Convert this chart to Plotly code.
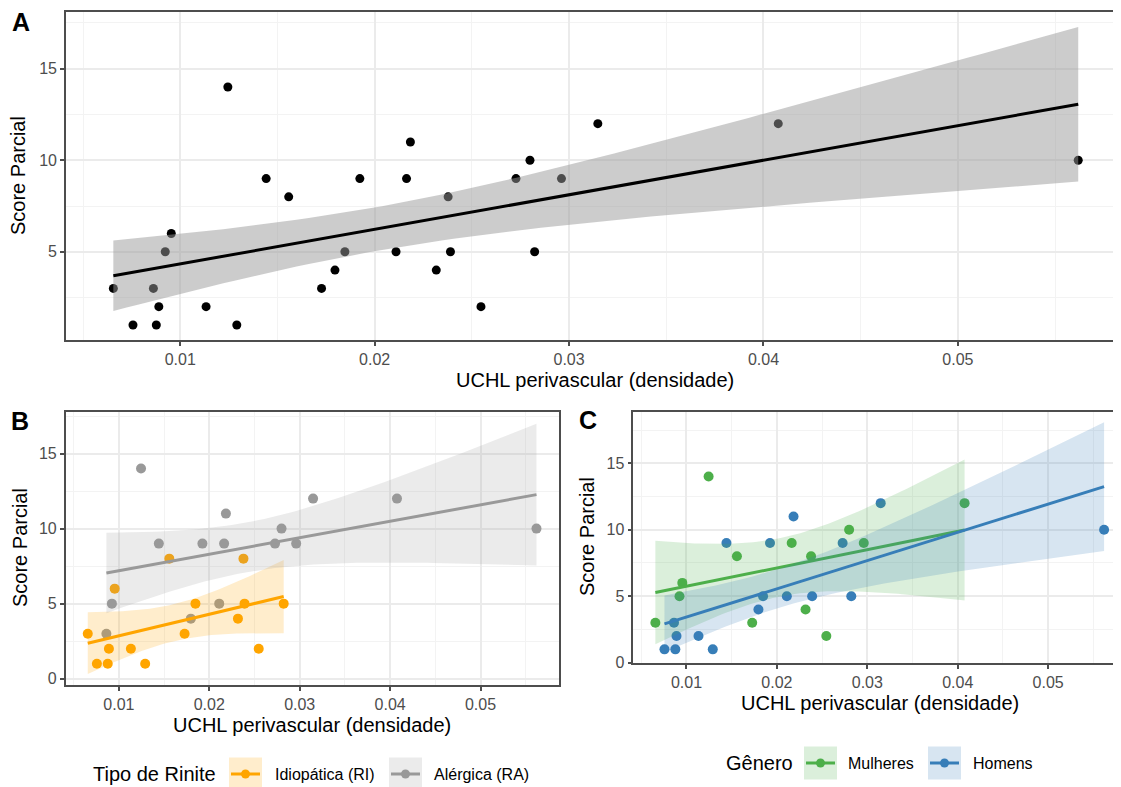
import numpy as np
import plotly.graph_objects as go

# ---------------- data ----------------
uchl = [0.00656, 0.00757, 0.00862, 0.00890, 0.00877, 0.00923, 0.00954, 0.01133, 0.01245, 0.01291,
        0.01442, 0.01558, 0.01727, 0.01796, 0.01847, 0.01924, 0.02110, 0.02164, 0.02184, 0.02317,
        0.02378, 0.02390, 0.02547, 0.02727, 0.02799, 0.02823, 0.02961, 0.03148, 0.04076, 0.05619]
score = [3, 1, 3, 2, 1, 5, 6, 2, 14, 1,
         9, 8, 3, 4, 5, 9, 5, 9, 11, 4,
         8, 5, 2, 9, 10, 5, 9, 12, 12, 10]
rinite = ["RI", "RI", "RA", "RI", "RI", "RA", "RI", "RI", "RA", "RI",
          "RA", "RI", "RI", "RA", "RI", "RA", "RA", "RA", "RA", "RI",
          "RI", "RI", "RI", "RA", "RA", "RI", "RA", "RA", "RA", "RA"]
genero = ["M", "H", "H", "H", "H", "M", "M", "H", "M", "H",
          "H", "M", "M", "H", "H", "H", "H", "M", "H", "M",
          "M", "H", "M", "H", "M", "H", "M", "H", "M", "H"]

rinite_levels = ["RI", "RA"]
rinite_labels = ["Idiopática (RI)", "Alérgica (RA)"]
rinite_colors = ["#FFA500", "#999999"]
genero_levels = ["M", "H"]
genero_labels = ["Mulheres", "Homens"]
genero_colors = ["#4DAF4A", "#377EB8"]

x_title = "UCHL perivascular (densidade)"
y_title = "Score Parcial"

# t quantiles (0.975) for the lm confidence band by residual df
T975 = {11: 2.2010, 13: 2.1604, 15: 2.1314, 28: 2.0484}

# page is 1121x787; the html body has an 8px margin, so the figure is 8px smaller
OFF = 8
W, H = 1121 - OFF, 787 - OFF
FONT = "Liberation Sans"


def px(xp):
    return (xp - OFF) / W


def py(yp):
    return 1 - (yp - OFF) / H


def lm_band(x, y, npts=80):
    x = np.asarray(x, float)
    y = np.asarray(y, float)
    n = len(x)
    xm = x.mean()
    sxx = ((x - xm) ** 2).sum()
    b = ((x - xm) * (y - y.mean())).sum() / sxx
    a = y.mean() - b * xm
    s = np.sqrt(((y - (a + b * x)) ** 2).sum() / (n - 2))
    xs = np.linspace(x.min(), x.max(), npts)
    yh = a + b * xs
    se = s * np.sqrt(1 / n + (xs - xm) ** 2 / sxx)
    t = T975[n - 2]
    return xs, yh, yh - t * se, yh + t * se


def rgba(hexc, a):
    h = hexc.lstrip("#")
    r, g, b = int(h[0:2], 16), int(h[2:4], 16), int(h[4:6], 16)
    return f"rgba({r},{g},{b},{a})"


fig = go.Figure()


def add_points(xv, yv, color, axis, msize):
    xa, ya = axis
    fig.add_trace(go.Scatter(x=xv, y=yv, mode="markers", xaxis=xa, yaxis=ya,
                             marker=dict(color=color, size=msize, line=dict(width=0)),
                             showlegend=False, hoverinfo="skip"))


def add_smooth(xv, yv, color, band_fill, axis):
    xa, ya = axis
    xs, yh, lo, hi = lm_band(xv, yv)
    fig.add_trace(go.Scatter(x=np.concatenate([xs, xs[::-1]]), y=np.concatenate([hi, lo[::-1]]),
                             fill="toself", fillcolor=band_fill, line=dict(width=0),
                             mode="lines", xaxis=xa, yaxis=ya, showlegend=False, hoverinfo="skip"))
    fig.add_trace(go.Scatter(x=xs, y=yh, mode="lines", line=dict(color=color, width=3),
                             xaxis=xa, yaxis=ya, showlegend=False, hoverinfo="skip"))


# Panel A
add_points(uchl, score, "black", ("x", "y"), 9)
add_smooth(uchl, score, "black", "rgba(153,153,153,0.5)", ("x", "y"))

# Panel B
for lev, col in zip(rinite_levels, rinite_colors):
    xv = [u for u, r in zip(uchl, rinite) if r == lev]
    yv = [s for s, r in zip(score, rinite) if r == lev]
    add_points(xv, yv, col, ("x2", "y2"), 10)
for lev, col in zip(rinite_levels, rinite_colors):
    xv = [u for u, r in zip(uchl, rinite) if r == lev]
    yv = [s for s, r in zip(score, rinite) if r == lev]
    add_smooth(xv, yv, col, rgba(col, 0.2), ("x2", "y2"))

# Panel C
for lev, col in zip(genero_levels, genero_colors):
    xv = [u for u, g in zip(uchl, genero) if g == lev]
    yv = [s for s, g in zip(score, genero) if g == lev]
    add_points(xv, yv, col, ("x3", "y3"), 10)
for lev, col in zip(genero_levels, genero_colors):
    xv = [u for u, g in zip(uchl, genero) if g == lev]
    yv = [s for s, g in zip(score, genero) if g == lev]
    add_smooth(xv, yv, col, rgba(col, 0.2), ("x3", "y3"))

GRID = "#EBEBEB"
MINOR = "#F3F3F3"
BORDER = "#4d4d4d"
TICKF = dict(family=FONT, size=16, color="#4d4d4d")


def xax(domain, rng, mirror, anchor):
    return dict(domain=domain, range=rng, dtick=0.01, tick0=0, showgrid=True, gridcolor=GRID, gridwidth=1.5,
                minor=dict(dtick=0.005, tick0=0, showgrid=True, gridcolor=MINOR, gridwidth=1),
                zeroline=False, showline=True, linecolor=BORDER, linewidth=1.6, mirror=mirror,
                ticks="outside", ticklen=4, tickwidth=1.5, tickcolor=BORDER, tickfont=TICKF,
                anchor=anchor, automargin=False, fixedrange=True)


def yax(domain, rng, mirror, anchor):
    return dict(domain=domain, range=rng, dtick=5, tick0=0, showgrid=True, gridcolor=GRID, gridwidth=1.5,
                minor=dict(dtick=2.5, tick0=0, showgrid=True, gridcolor=MINOR, gridwidth=1),
                zeroline=False, showline=True, linecolor=BORDER, linewidth=1.6, mirror=mirror,
                ticks="outside", ticklen=4, tickwidth=1.5, tickcolor=BORDER, tickfont=TICKF,
                anchor=anchor, automargin=False, fixedrange=True)


fig.update_layout(
    template="none",
    width=W, height=H, margin=dict(l=0, r=0, t=0, b=0, pad=0),
    paper_bgcolor="white", plot_bgcolor="white",
    font=dict(family=FONT),
    xaxis=xax([px(66), 1.0], [0.004125, 0.05839], True, "y"),
    yaxis=yax([py(340), py(12)], [0.18, 18.1], False, "x"),
    xaxis2=xax([px(65.7), px(559)], [0.00412, 0.05868], True, "y2"),
    yaxis2=yax([py(685), py(411.7)], [-0.42, 17.79], True, "x2"),
    xaxis3=xax([px(633.3), 1.0], [0.00412, 0.05806], True, "y3"),
    yaxis3=yax([py(663.3), py(411.7)], [-0.05, 18.88], False, "x3"),
)

ann = []


def text(x, y, t, size=20, bold=False, angle=0, xanchor="center", color="black"):
    ann.append(dict(x=px(x), y=py(y), xref="paper", yref="paper", text=(f"<b>{t}</b>" if bold else t),
                    showarrow=False, xanchor=xanchor, yanchor="middle", textangle=angle,
                    font=dict(family=FONT, size=size, color=color)))


# tags
text(21, 22, "A", size=25, bold=True)
text(20, 421, "B", size=25, bold=True)
text(588, 420, "C", size=25, bold=True)
# axis titles
text(18, 176, y_title, angle=-90)
text(595, 380, x_title)
text(20, 548, y_title, angle=-90)
text(312, 725, x_title)
text(587, 537, y_title, angle=-90)
text(880, 703, x_title)

shapes = []


def legend_key(x0, yc, color):
    s = 33
    shapes.append(dict(type="rect", xref="paper", yref="paper", x0=px(x0), x1=px(x0 + s),
                       y0=py(yc + s / 2), y1=py(yc - s / 2), fillcolor=rgba(color, 0.2), line=dict(width=0),
                       layer="above"))
    shapes.append(dict(type="line", xref="paper", yref="paper", x0=px(x0 + 2), x1=px(x0 + s - 2),
                       y0=py(yc), y1=py(yc), line=dict(color=color, width=3), layer="above"))
    r = 4.5
    cx = x0 + s / 2
    shapes.append(dict(type="circle", xref="paper", yref="paper", x0=px(cx - r), x1=px(cx + r),
                       y0=py(yc + r), y1=py(yc - r), fillcolor=color, line=dict(width=0), layer="above"))


# legend B
text(91, 774, "Tipo de Rinite", xanchor="left")
legend_key(229, 774, rinite_colors[0])
text(273, 774, rinite_labels[0], size=16, xanchor="left")
legend_key(389, 774, rinite_colors[1])
text(432, 774, rinite_labels[1], size=16, xanchor="left")
# legend C
text(724, 763, "Gênero", xanchor="left")
legend_key(804, 763, genero_colors[0])
text(846, 763, genero_labels[0], size=16, xanchor="left")
legend_key(928, 763, genero_colors[1])
text(971, 763, genero_labels[1], size=16, xanchor="left")

fig.update_layout(annotations=ann, shapes=shapes)
fig.write_html("out.html")
